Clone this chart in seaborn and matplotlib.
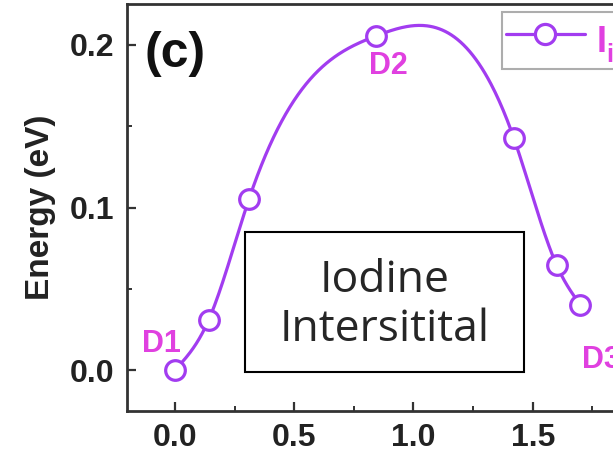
import numpy as np
import pandas as pd
import seaborn as sns
import matplotlib
matplotlib.use("Agg")
import matplotlib.pyplot as plt
from matplotlib.lines import Line2D
from matplotlib.ticker import MultipleLocator

# Migration path coordinates and relative energies
path_coord = [0.0, 0.142, 0.31, 0.842, 1.42, 1.60, 1.70]
energy_ev = [0.0, 0.031, 0.105, 0.2055, 0.143, 0.0646, 0.040]
site_labels = ["D1", "D2", "D3"]
site_pos = [(-0.058, 0.0160), (0.896, 0.187), (1.705, 0.006)]
x_ticks = [0.0, 0.5, 1.0, 1.5]
y_ticks = [0.0, 0.1, 0.2]

line_color = "#A23CF0"
label_color = "#E040E0"


def natural_spline(x, y, xs):
    x = np.asarray(x, float)
    y = np.asarray(y, float)
    n = len(x)
    h = np.diff(x)
    A = np.zeros((n, n))
    b = np.zeros(n)
    A[0, 0] = A[-1, -1] = 1.0
    for i in range(1, n - 1):
        A[i, i - 1] = h[i - 1]
        A[i, i] = 2 * (h[i - 1] + h[i])
        A[i, i + 1] = h[i]
        b[i] = 3 * ((y[i + 1] - y[i]) / h[i] - (y[i] - y[i - 1]) / h[i - 1])
    c = np.linalg.solve(A, b)
    out = np.empty_like(xs)
    for k, xv in enumerate(xs):
        i = min(max(np.searchsorted(x, xv) - 1, 0), n - 2)
        dx = xv - x[i]
        bi = (y[i + 1] - y[i]) / h[i] - h[i] * (2 * c[i] + c[i + 1]) / 3
        di = (c[i + 1] - c[i]) / (3 * h[i])
        out[k] = y[i] + bi * dx + c[i] * dx ** 2 + di * dx ** 3
    return out


sns.set_theme(style="ticks")
plt.rcParams["font.family"] = ["Liberation Sans", "DejaVu Sans"]
plt.rcParams["mathtext.fontset"] = "custom"
plt.rcParams["mathtext.bf"] = "Liberation Sans:bold"
plt.rcParams["mathtext.rm"] = "Liberation Sans"

fig = plt.figure(figsize=(6.13, 4.59), dpi=100)
ax = fig.add_axes([127 / 613, 1 - 411 / 459, (652 - 127) / 613, (411 - 4) / 459])

xs = np.linspace(path_coord[0], path_coord[-1], 400)
curve = pd.DataFrame({"x": xs, "y": natural_spline(path_coord, energy_ev, xs)})
pts = pd.DataFrame({"x": path_coord, "y": energy_ev})

sns.lineplot(data=curve, x="x", y="y", ax=ax, color=line_color, lw=2.3, zorder=2)
sns.scatterplot(data=pts, x="x", y="y", ax=ax, s=200, facecolor="white",
                edgecolor=line_color, linewidth=2.3, zorder=3)

ax.set_xlim(-0.201, 2.0)
ax.set_ylim(-0.0252, 0.2252)
ax.set_xticks(x_ticks)
ax.set_yticks(y_ticks)
ax.xaxis.set_minor_locator(MultipleLocator(0.25))
ax.yaxis.set_minor_locator(MultipleLocator(0.05))
ax.set_xticklabels([f"{v:.1f}" for v in x_ticks])
ax.set_yticklabels([f"{v:.1f}" for v in y_ticks])
ax.tick_params(which="major", direction="in", length=6.5, width=1.6,
               color="#333333", labelsize=23, pad=9)
ax.tick_params(which="minor", direction="in", length=3.5, width=1.4,
               color="#333333")
for lab in ax.get_xticklabels() + ax.get_yticklabels():
    lab.set_fontweight("bold")
    lab.set_color("#222222")
for sp in ax.spines.values():
    sp.set_linewidth(2.0)
    sp.set_color("#333333")

ax.set_xlabel("")
ax.set_ylabel("Energy (eV)", fontsize=24, fontweight="bold", color="#222222",
              labelpad=10)

ax.text(0.034, 0.877, "(c)", transform=ax.transAxes, fontsize=36,
        fontweight="bold", color="#111111", ha="left", va="center")

for name, (tx, ty) in zip(site_labels, site_pos):
    ax.text(tx, ty, name, fontsize=22, fontweight="bold", color=label_color,
            ha="left" if name == "D3" else "center", va="center")

box_x0, box_x1 = (245 - 175) / 238.7, (524 - 175) / 238.7
box_y0, box_y1 = (370 - 372) / 1625.0, (370 - 232) / 1625.0
ax.add_patch(plt.Rectangle((box_x0, box_y0), box_x1 - box_x0, box_y1 - box_y0,
                           facecolor="white", edgecolor="black", lw=1.5, zorder=4))
ax.text((box_x0 + box_x1) / 2, (box_y0 + box_y1) / 2 - 0.002, "Iodine\nIntersitital",
        fontsize=32, family=["Open Sans", "DejaVu Sans"], ha="center",
        va="center", linespacing=1.12, zorder=5)

handle = Line2D([], [], color=line_color, lw=2.3, marker="o", markersize=14.5,
                markerfacecolor="white", markeredgecolor=line_color,
                markeredgewidth=2.3)
leg = ax.legend([handle], [r"$\mathbf{I_i^-}$"], loc="upper left",
                bbox_to_anchor=(502 / 613, 1 - 12 / 459),
                bbox_transform=fig.transFigure, fontsize=26, frameon=True,
                fancybox=False, handlelength=2.2, handleheight=1.75,
                borderpad=0.1, handletextpad=0.3, borderaxespad=0)
leg.get_frame().set_edgecolor("#999999")
leg.get_frame().set_linewidth(1.5)
for t in leg.get_texts():
    t.set_color(label_color)

fig.savefig("out.png", dpi=100)
